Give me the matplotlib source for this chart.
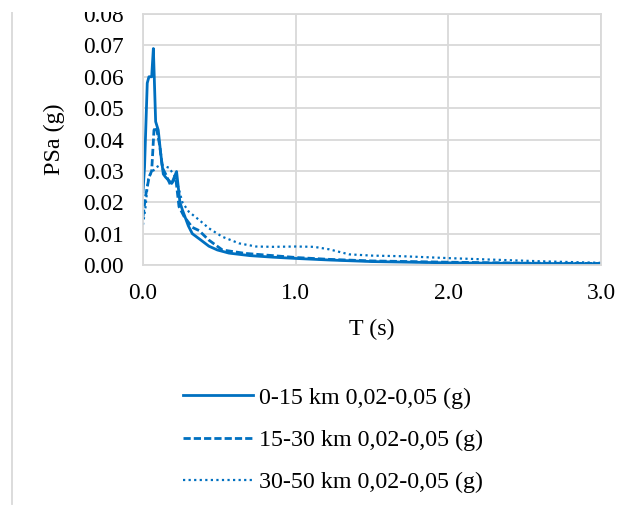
import numpy as np
import matplotlib.pyplot as plt
from matplotlib.lines import Line2D
from matplotlib.patches import Rectangle

plt.rcParams['font.family'] = ['Liberation Serif', 'DejaVu Serif']

# periods (s) and spectral accelerations (g)
t_near = [0.0, 0.01, 0.02, 0.028, 0.039, 0.057, 0.068, 0.083, 0.10, 0.115, 0.133, 0.148,
          0.168, 0.188, 0.205, 0.22, 0.242, 0.258, 0.297, 0.323, 0.378, 0.432, 0.487,
          0.563, 0.70, 0.85, 1.0, 1.22, 1.5, 2.0, 2.5, 3.0]
psa_near = [0.0234, 0.031, 0.046, 0.058, 0.060, 0.060, 0.069, 0.0457, 0.043, 0.036, 0.029,
            0.028, 0.027, 0.026, 0.028, 0.0298, 0.020, 0.0176, 0.0125, 0.010, 0.008, 0.006,
            0.0048, 0.0038, 0.003, 0.0025, 0.0021, 0.0016, 0.0011, 0.0007, 0.0005, 0.0004]

t_mid = [0.0, 0.017, 0.04, 0.057, 0.072, 0.087, 0.11, 0.127, 0.148, 0.18, 0.214, 0.236,
         0.27, 0.323, 0.367, 0.43, 0.52, 0.67, 0.85, 1.0, 1.22, 1.5, 2.0, 2.5, 3.0]
psa_mid = [0.0154, 0.022, 0.028, 0.030, 0.043, 0.044, 0.038, 0.031, 0.029, 0.0255, 0.028,
           0.0186, 0.0154, 0.012, 0.011, 0.008, 0.0048, 0.0037, 0.003, 0.0024, 0.0018,
           0.0013, 0.0009, 0.0006, 0.0005]

t_far = [0.0, 0.017, 0.035, 0.05, 0.083, 0.116, 0.17, 0.214, 0.258, 0.30, 0.367, 0.432,
         0.52, 0.63, 0.74, 0.85, 1.0, 1.12, 1.22, 1.35, 1.5, 1.7, 2.0, 2.3, 2.6, 3.0]
psa_far = [0.0128, 0.0186, 0.028, 0.029, 0.031, 0.032, 0.031, 0.028, 0.020, 0.017, 0.0144,
           0.0117, 0.009, 0.0069, 0.0059, 0.0058, 0.0059, 0.0058, 0.005, 0.0034, 0.003,
           0.0028, 0.0022, 0.0017, 0.0012, 0.0007]

labels = ["0-15 km 0,02-0,05 (g)", "15-30 km 0,02-0,05 (g)", "30-50 km 0,02-0,05 (g)"]

blue = "#0070C0"
grid = "#D9D9D9"
fs = 17.3

fig = plt.figure(figsize=(6.23, 5.08), dpi=100)
ax = fig.add_axes([0.2295, 0.4783, 0.7352, 0.4941])

h1, = ax.plot(t_near, psa_near, color=blue, lw=2.0, ls='-')
h2, = ax.plot(t_mid, psa_mid, color=blue, lw=2.0, ls=(0, (2.6, 1.1)))
h3, = ax.plot(t_far, psa_far, color=blue, lw=1.6, ls=(0, (1, 1.5)))

ax.set_xlim(0, 3.0)
ax.set_ylim(0, 0.08)
ax.set_xticks([0, 1, 2, 3])
ax.set_xticklabels(["0.0", "1.0", "2.0", "3.0"])
ax.set_yticks(np.arange(0, 0.081, 0.01))
ax.set_yticklabels([f"{v:.2f}" for v in np.arange(0, 0.081, 0.01)])
ax.grid(True, color=grid, lw=1.3)
ax.set_axisbelow(True)
for s in ax.spines.values():
    s.set_color(grid)
    s.set_linewidth(1.3)
ax.tick_params(axis='y', length=0, labelsize=16.8, pad=14)
ax.tick_params(axis='x', length=0, labelsize=16.8, pad=13)

ax.set_xlabel("T (s)", fontsize=fs)
ax.set_ylabel("PSa (g)", fontsize=fs)
ax.xaxis.set_label_coords(0.5, -0.215)
ax.yaxis.set_label_coords(-0.17, 0.5)

fig.legend([h1, h2, h3], labels, loc='upper left', bbox_to_anchor=(183 / 623, 1 - 387 / 508),
           frameon=False, fontsize=fs, handlelength=2.9, handletextpad=0.25,
           labelspacing=0.85, borderpad=0, borderaxespad=0)

# chart area border on the left
fig.add_artist(Line2D([12 / 623, 12 / 623], [4 / 508, 1], color=grid, lw=1.3))
# top strip of the source image is cut off
fig.add_artist(Rectangle((0, 1 - 12 / 508), 1, 12 / 508, transform=fig.transFigure,
                         facecolor='white', edgecolor='none', zorder=10))

fig.savefig("out.png", dpi=100)
